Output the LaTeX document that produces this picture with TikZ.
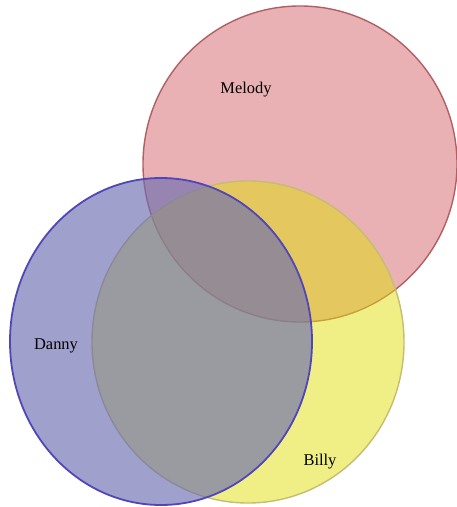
\documentclass[tikz,border=0pt]{standalone}
\usepackage{fontspec}
\setmainfont{Liberation Serif}
\definecolor{redfill}{RGB}{211,99,103}
\definecolor{redline}{RGB}{176,96,100}
\definecolor{yelfill}{RGB}{225,223,13}
\definecolor{yelline}{RGB}{196,190,110}
\definecolor{blufill}{RGB}{109,109,177}
\definecolor{bluline}{RGB}{80,70,185}
\tikzset{
  setshape/.style={ellipse, inner sep=0pt, fill opacity=0.5, line width=1.4bp},
  lbl/.style={font=\fontsize{16.5}{18}\selectfont, text=black, inner sep=0pt}
}
\usetikzlibrary{shapes.geometric}
\begin{document}
\begin{tikzpicture}[x=1bp,y=-1bp]
\useasboundingbox (0,0) rectangle (457,507);
\node[setshape, fill=redfill, draw=redline, minimum width=314bp, minimum height=316bp] (melody) at (300,164) {};
\node[setshape, fill=yelfill, draw=yelline, minimum width=312bp, minimum height=322bp] (billy) at (248,342) {};
\node[setshape, fill=blufill, fill opacity=0.65, draw=bluline, line width=1.8bp, minimum width=302bp, minimum height=327bp] (danny) at (161,341.5) {};
\node[lbl] (lm) at (246,90) {Melody};
\node[lbl] (ld) at (56,346) {Danny};
\node[lbl] (lb) at (320,462) {Billy};
\end{tikzpicture}
\end{document}
